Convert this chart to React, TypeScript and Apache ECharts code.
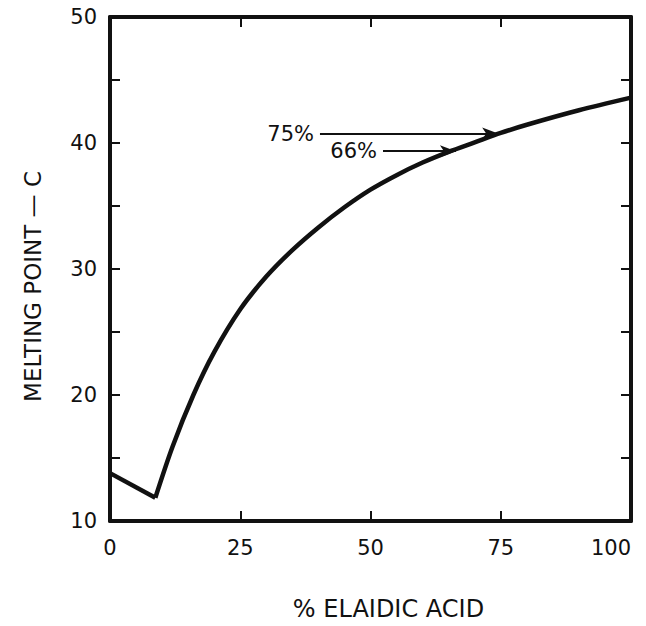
import React, { useEffect, useRef } from "react";
import * as echarts from "echarts";

// Straight falling segment (eutectic region)
const segX = [0, 8.7];
const segY = [13.8, 11.85];
// Rising melting-point curve
const curveX = [8.7, 12, 16, 20, 25, 30, 35, 40, 45, 50, 55, 60, 65, 70, 75, 80, 90, 100];
const curveY = [11.85, 15.9, 20.0, 23.4, 26.8, 29.4, 31.5, 33.3, 34.9, 36.3, 37.45, 38.45, 39.3, 40.05, 40.8, 41.45, 42.6, 43.6];

// Annotation arrows
const arrowLabels = ["75%", "66%"];
const arrowY = [40.75, 39.35];
const arrowStartX = [40.3, 52.4];
const arrowEndX = [74.5, 66.4];

const xTitle = "% ELAIDIC ACID";
const yTitle = "MELTING POINT — C";

const FONT = "DejaVu Sans";
const INK = "#111";

export default function App() {
  const ref = useRef<HTMLDivElement>(null);
  useEffect(() => {
    if (!ref.current) return;
    const chart = echarts.init(ref.current, null, { renderer: "svg" });
    const tickStyle = { color: INK, width: 2 };
    const baseX = {
      type: "value" as const,
      min: 0,
      max: 100,
      interval: 25,
      splitLine: { show: false },
      axisLine: { show: true, onZero: false, lineStyle: { color: INK, width: 4 } },
      axisTick: { show: true, inside: true, length: 10, lineStyle: tickStyle },
    };
    const baseY = {
      type: "value" as const,
      min: 10,
      max: 50,
      interval: 10,
      splitLine: { show: false },
      minorSplitLine: { show: false },
      axisLine: { show: true, onZero: false, lineStyle: { color: INK, width: 4 } },
      axisTick: { show: true, inside: true, length: 10, lineStyle: tickStyle },
      minorTick: { show: true, splitNumber: 2, length: 10, lineStyle: tickStyle },
    };
    const markData = arrowLabels.map((lab, i) => [
      {
        coord: [arrowStartX[i], arrowY[i]],
        symbol: "none",
        label: { formatter: lab },
      },
      {
        coord: [arrowEndX[i], arrowY[i]],
        symbol: "arrow",
        symbolSize: [9, 16],
      },
    ]);
    chart.setOption({
      animation: false,
      backgroundColor: "#fff",
      grid: { left: 110, right: 15, top: 17, bottom: 94 },
      xAxis: [
        {
          ...baseX,
          position: "bottom",
          axisLabel: {
            show: true,
            margin: 16,
            color: INK,
            fontSize: 21,
            fontFamily: FONT,
            alignMaxLabel: "right",
          },
          name: xTitle,
          nameLocation: "middle",
          nameGap: 76,
          nameTextStyle: { color: INK, fontSize: 24, fontFamily: FONT, padding: [0, 0, 0, 36] },
        },
        { ...baseX, position: "top", axisLabel: { show: false } },
      ],
      yAxis: [
        {
          ...baseY,
          position: "left",
          axisLabel: { show: true, margin: 13, color: INK, fontSize: 21, fontFamily: FONT },
          name: yTitle,
          nameLocation: "middle",
          nameRotate: 90,
          nameGap: 66,
          nameTextStyle: { color: INK, fontSize: 23, fontFamily: FONT, padding: [0, 35, 0, 0] },
        },
        { ...baseY, position: "right", axisLabel: { show: false } },
      ],
      series: [
        {
          type: "line",
          data: segX.map((x, i) => [x, segY[i]]),
          showSymbol: false,
          symbol: "none",
          lineStyle: { color: INK, width: 4.5 },
          silent: true,
        },
        {
          type: "line",
          data: curveX.map((x, i) => [x, curveY[i]]),
          showSymbol: false,
          symbol: "none",
          smooth: 0.3,
          lineStyle: { color: INK, width: 4.5 },
          silent: true,
          markLine: {
            silent: true,
            animation: false,
            symbol: ["none", "arrow"],
            lineStyle: { color: INK, width: 2, type: "solid" },
            label: {
              show: true,
              position: "start",
              distance: 6,
              color: INK,
              fontSize: 21,
              fontFamily: FONT,
            },
            emphasis: { disabled: true },
            data: markData,
          },
        },
      ],
    });
    return () => chart.dispose();
  }, []);
  return (
    <div
      ref={ref}
      style={{ position: "fixed", left: 0, top: 0, width: 646, height: 626 }}
    />
  );
}
